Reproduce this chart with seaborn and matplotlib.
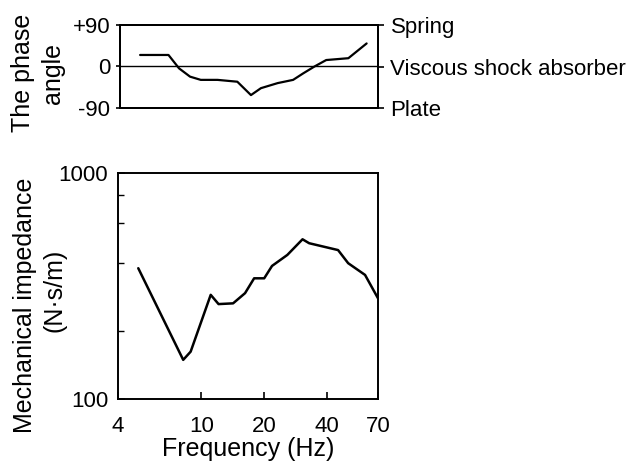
import numpy as np
import pandas as pd
import matplotlib
matplotlib.use("Agg")
import matplotlib.pyplot as plt
import matplotlib.ticker as mticker
import seaborn as sns

# ---- data ----
phase_freq = [5.0, 6.85, 7.7, 8.7, 9.8, 11.8, 14.7, 17.1, 19.1, 23.0, 27.3, 30.5, 34.6, 39.4, 50.4, 61.7]
phase_deg = [25, 25, -4, -22, -29, -29, -33, -62, -47, -36, -29, -15, 0, 14, 18, 50]

imp_freq = [5.0, 8.2, 8.9, 11.1, 12.1, 14.2, 16.2, 17.9, 20.0, 21.8, 25.8, 30.5, 32.8, 45.1, 50.4, 60.7, 70.0]
imp_val = [379, 149, 162, 289, 263, 265, 294, 342, 342, 388, 434, 509, 489, 456, 399, 354, 279]

x_ticks = [4, 10, 20, 40, 70]
phase_ticks = [90, 0, -90]
phase_ticklabels = ["+90", "0", "-90"]
phase_right_labels = ["Spring", "Viscous shock absorber", "Plate"]
imp_ticks = [100, 1000]

sns.set_style("ticks")
plt.rcParams['font.family'] = ['Liberation Sans', 'DejaVu Sans']
for k in ["text.color", "axes.labelcolor", "xtick.color", "ytick.color", "axes.edgecolor"]:
    plt.rcParams[k] = "black"

W, H = 644, 461
fig = plt.figure(figsize=(W / 100, H / 100), dpi=100)

def rect(l, t, r, b):
    return [l / W, (H - b) / H, (r - l) / W, (b - t) / H]

lw_frame = 1.4
tick_fs = 16

# ---- top: phase angle ----
ax1 = fig.add_axes(rect(120, 25, 378, 108))
df1 = pd.DataFrame({"f": phase_freq, "p": phase_deg})
sns.lineplot(data=df1, x="f", y="p", ax=ax1, color="black", linewidth=1.6)
ax1.axhline(0, color="black", linewidth=1.0)
ax1.set_xscale("log")
ax1.set_xlim(4, 70)
ax1.set_ylim(-90, 90)
ax1.set_xticks([])
ax1.xaxis.set_minor_locator(mticker.NullLocator())
ax1.set_yticks(phase_ticks)
ax1.set_yticklabels(phase_ticklabels)
ax1.tick_params(axis="y", direction="out", length=3, width=1.2, labelsize=tick_fs, pad=4)
ax1.set_xlabel("")
ax1.set_ylabel("")
for s in ax1.spines.values():
    s.set_linewidth(lw_frame)
    s.set_visible(True)

ax1r = ax1.twinx()
ax1r.set_ylim(-90, 90)
ax1r.set_yticks(phase_ticks)
ax1r.set_yticklabels(phase_right_labels)
ax1r.tick_params(axis="y", direction="out", length=4, width=1.2, labelsize=tick_fs, pad=5)
for s in ax1r.spines.values():
    s.set_linewidth(lw_frame)

fig.text(23 / W, 1 - 73 / H, "The phase", rotation=90, ha="center", va="center", fontsize=18)
fig.text(53 / W, 1 - 73 / H, "angle", rotation=90, ha="center", va="center", fontsize=18)

# ---- bottom: mechanical impedance ----
ax2 = fig.add_axes(rect(118, 173, 378, 399))
df2 = pd.DataFrame({"f": imp_freq, "z": imp_val})
sns.lineplot(data=df2, x="f", y="z", ax=ax2, color="black", linewidth=1.8)
ax2.set_xscale("log")
ax2.set_yscale("log")
ax2.set_xlim(4, 70)
ax2.set_ylim(100, 1000)
ax2.set_xticks(x_ticks)
ax2.xaxis.set_major_formatter(mticker.FuncFormatter(lambda v, p: f"{v:g}"))
ax2.xaxis.set_minor_locator(mticker.NullLocator())
ax2.set_yticks(imp_ticks)
ax2.yaxis.set_major_formatter(mticker.FuncFormatter(lambda v, p: f"{v:g}"))
ax2.yaxis.set_minor_locator(mticker.FixedLocator([200, 400, 600, 800]))
ax2.yaxis.set_minor_formatter(mticker.NullFormatter())
ax2.tick_params(axis="both", which="major", direction="in", length=5, width=1.2, labelsize=tick_fs)
ax2.tick_params(axis="y", which="major", pad=7)
ax2.tick_params(axis="x", which="major", pad=12)
ax2.tick_params(axis="y", which="minor", direction="in", length=4, width=1.0)
ax2.set_xlabel("Frequency (Hz)", fontsize=18, labelpad=0)
ax2.set_ylabel("")
for s in ax2.spines.values():
    s.set_linewidth(lw_frame)
    s.set_visible(True)

fig.text(25 / W, 1 - 305 / H, "Mechanical impedance", rotation=90, ha="center", va="center", fontsize=18)
fig.text(55 / W, 1 - 290 / H, "(N·s/m)", rotation=90, ha="center", va="center", fontsize=18)

fig.savefig("out.png", dpi=100)
